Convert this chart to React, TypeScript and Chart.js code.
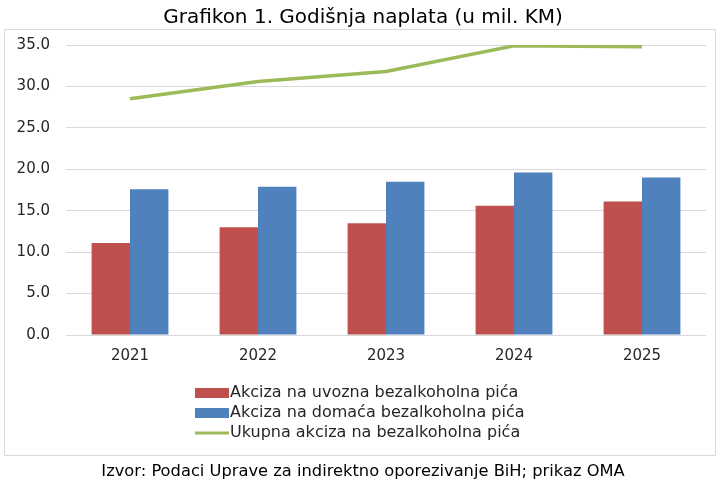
import { useEffect, useRef } from "react";
import { Chart, registerables } from "chart.js";

Chart.register(...registerables);

// Annual collection of excise on non-alcoholic drinks, million KM
const years = ["2021", "2022", "2023", "2024", "2025"];
const importExcise = [11.1, 13.0, 13.5, 15.6, 16.1];
const domesticExcise = [17.6, 17.9, 18.5, 19.6, 19.0];
const totalExcise = [28.5, 30.6, 31.8, 34.9, 34.8];

const seriesLabels = [
  "Akciza na uvozna bezalkoholna pića",
  "Akciza na domaća bezalkoholna pića",
  "Ukupna akciza na bezalkoholna pića",
];

const yMin = 0;
const yMax = 35;
const yStep = 5;

const chartTitle = "Grafikon 1. Godišnja naplata (u mil. KM)";
const sourceNote = "Izvor: Podaci Uprave za indirektno oporezivanje BiH; prikaz OMA";

const FONT = '"DejaVu Sans", Verdana, sans-serif';
const TEXT = "#262626";
const RED = "#C0504D";
const BLUE = "#4F81BD";
const GREEN = "#9BBB59";
const GRID = "#D9D9D9";

const W = 724;
const H = 483;

// Frame, title, stacked legend and source line drawn around the plot
const decorations = {
  id: "decorations",
  beforeDraw(chart: Chart) {
    const ctx = chart.ctx;
    ctx.save();
    ctx.fillStyle = "#ffffff";
    ctx.fillRect(0, 0, W, H);
    ctx.strokeStyle = GRID;
    ctx.lineWidth = 1;
    ctx.strokeRect(4.5, 29.5, 711, 426);
    ctx.fillStyle = "#000000";
    ctx.font = `20px ${FONT}`;
    ctx.textAlign = "center";
    ctx.textBaseline = "middle";
    ctx.fillText(chartTitle, 363, 18);
    ctx.restore();
  },
  afterDraw(chart: Chart) {
    const ctx = chart.ctx;
    ctx.save();
    const x0 = 195;
    const rowY = [393, 413, 433];
    chart.data.datasets.forEach((ds: any, i: number) => {
      const y = rowY[i];
      if (ds.type === "line") {
        ctx.strokeStyle = ds.borderColor;
        ctx.lineWidth = 3;
        ctx.beginPath();
        ctx.moveTo(x0, y);
        ctx.lineTo(x0 + 34, y);
        ctx.stroke();
      } else {
        ctx.fillStyle = ds.backgroundColor;
        ctx.fillRect(x0, y - 5, 34, 10);
      }
      ctx.fillStyle = TEXT;
      ctx.font = `16px ${FONT}`;
      ctx.textAlign = "left";
      ctx.textBaseline = "middle";
      ctx.fillText(ds.label, x0 + 35, y);
    });
    ctx.fillStyle = "#000000";
    ctx.font = `16.3px ${FONT}`;
    ctx.textAlign = "center";
    ctx.fillText(sourceNote, 363, 472);
    ctx.restore();
  },
};

export default function App() {
  const canvasRef = useRef<HTMLCanvasElement | null>(null);

  useEffect(() => {
    const canvas = canvasRef.current;
    if (!canvas) return;
    const chart = new Chart(canvas, {
      type: "bar",
      data: {
        labels: years,
        datasets: [
          {
            type: "bar",
            label: seriesLabels[0],
            data: importExcise,
            backgroundColor: RED,
            order: 2,
            categoryPercentage: 0.6,
            barPercentage: 1.0,
          },
          {
            type: "bar",
            label: seriesLabels[1],
            data: domesticExcise,
            backgroundColor: BLUE,
            order: 2,
            categoryPercentage: 0.6,
            barPercentage: 1.0,
          },
          {
            type: "line",
            label: seriesLabels[2],
            data: totalExcise,
            borderColor: GREEN,
            backgroundColor: GREEN,
            borderWidth: 3.5,
            pointRadius: 0,
            tension: 0,
            order: 1,
          },
        ] as any,
      },
      options: {
        responsive: false,
        animation: false,
        devicePixelRatio: 1,
        layout: { padding: { left: 0, right: 18, top: 45, bottom: 0 } },
        plugins: {
          legend: { display: false },
          title: { display: false },
          tooltip: { enabled: false },
        },
        scales: {
          x: {
            grid: { display: false, drawTicks: false },
            border: { display: false },
            ticks: { padding: 12, color: TEXT, font: { family: FONT, size: 15 } },
            afterFit: (s: any) => {
              s.height = 148;
            },
          },
          y: {
            min: yMin,
            max: yMax,
            grid: { color: GRID, lineWidth: 1, drawTicks: false },
            border: { display: false },
            ticks: {
              stepSize: yStep,
              padding: 16,
              color: TEXT,
              font: { family: FONT, size: 15 },
              callback: (v: any) => Number(v).toFixed(1),
            },
            afterFit: (s: any) => {
              s.width = 66;
            },
          },
        },
      },
      plugins: [decorations],
    });
    return () => chart.destroy();
  }, []);

  return (
    <div style={{ position: "fixed", left: 0, top: 0, width: W, height: H, background: "#fff" }}>
      <canvas ref={canvasRef} width={W} height={H} style={{ display: "block", width: W, height: H }} />
    </div>
  );
}
